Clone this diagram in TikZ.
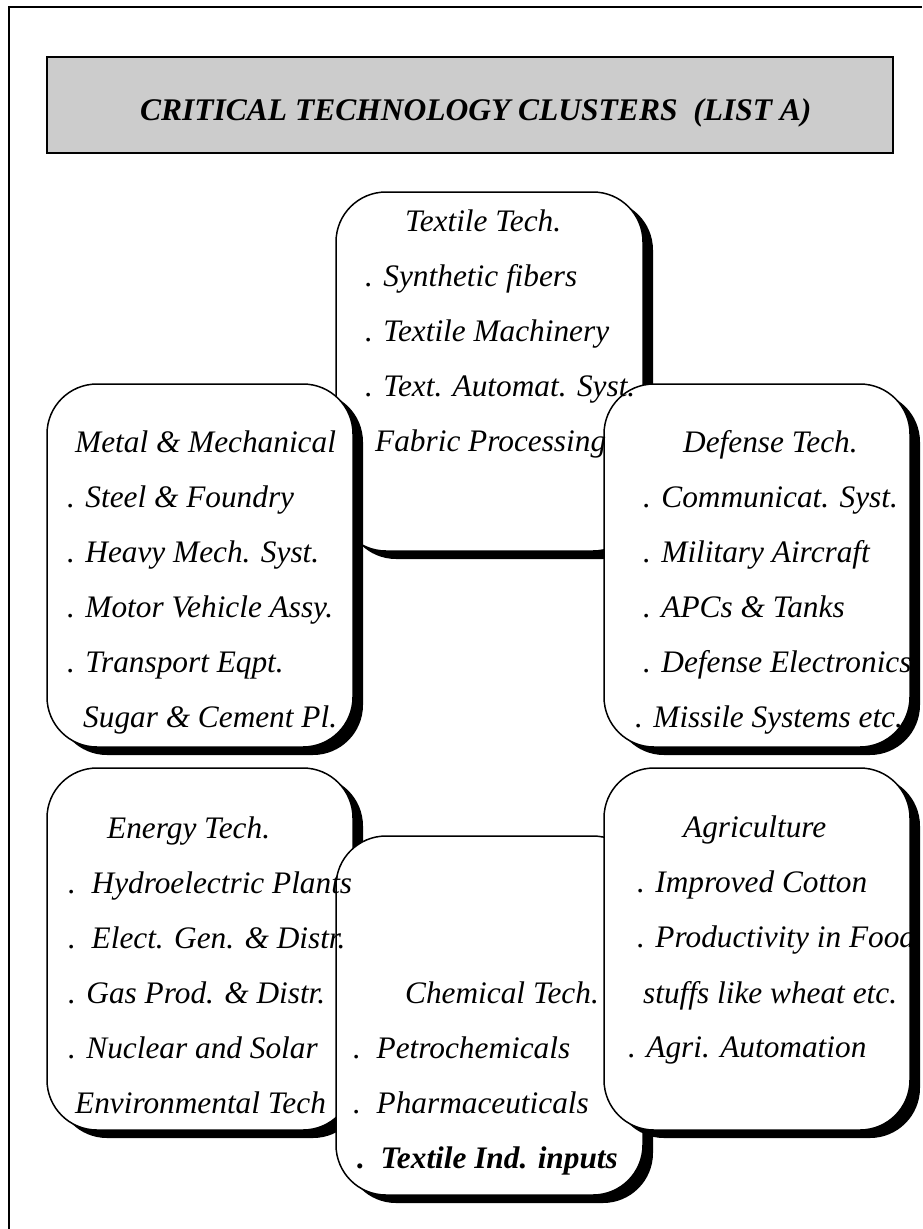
\documentclass[tikz,border=0pt]{standalone}
\usepackage{fontspec}
\setmainfont{Liberation Serif}
\definecolor{titlegray}{HTML}{CCCCCC}
\newcommand\itemfont{\fontsize{31.3}{36}\selectfont\itshape}
\newcommand\headfont{\fontsize{31.5}{36}\selectfont\bfseries\itshape}
\tikzset{
  cluster/.style={draw=black, line width=1.5pt, fill=white, rounded corners=50pt},
  clustershadow/.style={fill=black, rounded corners=50pt},
  item/.style={anchor=base west, inner sep=0pt, font=\itemfont},
  headline/.style={anchor=base west, inner sep=0pt, font=\headfont},
}
% rounded box with its offset black shadow
\newcommand\clusterbox[4]{%
  \fill[clustershadow] (#1+10,#2+8) rectangle (#3+10,#4+8);
  \draw[cluster] (#1,#2) rectangle (#3,#4);}
\begin{document}
\begin{tikzpicture}[x=1pt,y=-1pt]
\useasboundingbox (0,0) rectangle (922,1229);
% page frame
\draw[line width=2pt] (9,1229) -- (9,7) -- (922,7);
% heading bar
\draw[line width=2pt, fill=titlegray] (47,57) rectangle (893,153);
\node[headline] (title) at (140,120) {CRITICAL TECHNOLOGY CLUSTERS\ \ (LIST A)};

% cluster boxes, back to front
\clusterbox{336}{192}{643}{551}   % textile
\clusterbox{47}{384}{353}{747}    % metal
\clusterbox{604}{384}{910}{747}   % defense
\clusterbox{47}{768}{353}{1130}   % energy
\clusterbox{336}{836}{643}{1195}  % chemical
\clusterbox{604}{768}{910}{1130}  % agriculture

% textile
\node[item] (tx0) at (405,231) {Textile Tech.};
\node[item] (tx1) at (365,286) {. Synthetic fibers};
\node[item] (tx2) at (365,341) {. Textile Machinery};
\node[item] (tx3) at (365,396) {. Text. Automat. Syst.};
\node[item] (tx4) at (375,451) {Fabric Processing};

% metal
\node[item] (mt0) at (75,452) {Metal \& Mechanical};
\node[item] (mt1) at (67,507) {. Steel \& Foundry};
\node[item] (mt2) at (67,562) {. Heavy Mech. Syst.};
\node[item] (mt3) at (67,617) {. Motor Vehicle Assy.};
\node[item] (mt4) at (67,672) {. Transport Eqpt.};
\node[item] (mt5) at (83,727) {Sugar \& Cement Pl.};

% defense
\node[item] (df0) at (683,452) {Defense Tech.};
\node[item] (df1) at (643,507) {. Communicat. Syst.};
\node[item] (df2) at (643,562) {. Military Aircraft};
\node[item] (df3) at (643,617) {. APCs \& Tanks};
\node[item] (df4) at (643,672) {. Defense Electronics};
\node[item] (df5) at (635,727) {. Missile Systems etc.};

% energy
\node[item] (en0) at (107,838) {Energy Tech.};
\node[item] (en1) at (68,893) {.\ \ Hydroelectric Plants};
\node[item] (en2) at (68,948) {.\ \ Elect. Gen. \& Distr.};
\node[item] (en3) at (68,1003) {. Gas Prod. \& Distr.};
\node[item] (en4) at (68,1058) {. Nuclear and Solar};
\node[item] (en5) at (75,1113) {Environmental Tech};

% chemical
\node[item] (ch0) at (405,1003) {Chemical Tech.};
\node[item] (ch1) at (353,1058) {.\ \ Petrochemicals};
\node[item] (ch2) at (353,1113) {.\ \ Pharmaceuticals};
\node[item, font=\itemfont\bfseries] (ch3) at (357,1168) {.\ \ Textile Ind. inputs};

% agriculture
\node[item] (ag0) at (683,837) {Agriculture};
\node[item] (ag1) at (637,892) {. Improved Cotton};
\node[item] (ag2) at (637,947) {. Productivity in Food};
\node[item] (ag3) at (643,1003) {stuffs like wheat etc.};
\node[item] (ag4) at (628,1057) {. Agri. Automation};
\end{tikzpicture}
\end{document}
